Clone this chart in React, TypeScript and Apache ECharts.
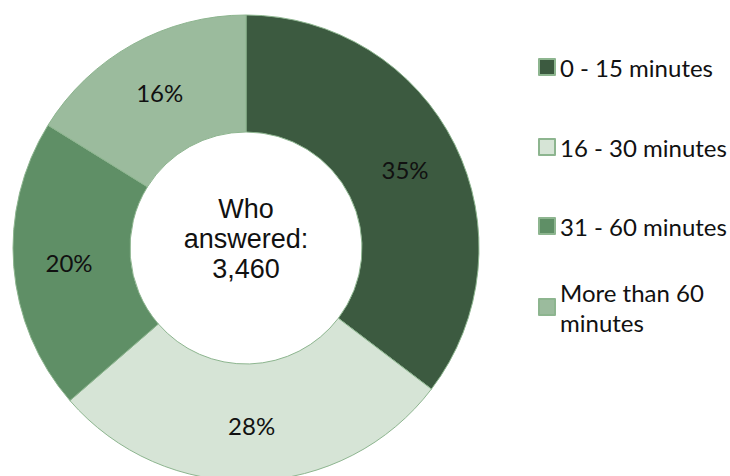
import React, { useEffect, useRef } from "react";
import * as echarts from "echarts";

const categories = ["0 - 15 minutes", "16 - 30 minutes", "31 - 60 minutes", "More than 60 minutes"];
const percentages = [35, 28, 20, 16];
const colors = ["#3c5a40", "#d6e4d6", "#5f8f66", "#9bbb9d"];
const legendLabels = ["0 - 15 minutes", "16 - 30 minutes", "31 - 60 minutes", "More than 60\nminutes"];
const centerLines = ["Who", "answered:", "3,460"];

export default function App() {
  const ref = useRef<HTMLDivElement>(null);
  useEffect(() => {
    if (!ref.current) return;
    const chart = echarts.init(ref.current, null, { renderer: "svg" });
    const legendCenters = [67, 147, 226, 307];
    const legends = categories.map((name, i) => {
      const multi = legendLabels[i].includes("\n");
      return {
        show: true,
        orient: "vertical",
        left: 538,
        top: multi ? legendCenters[i] - 45 : legendCenters[i] - 15,
        padding: 0,
        itemWidth: 16,
        itemHeight: 16,
        icon: "rect",
        selectedMode: false,
        data: [name],
        formatter: () => legendLabels[i],
        textStyle: {
          fontFamily: "Lato",
          fontSize: 24,
          lineHeight: 30,
          color: "#111111",
          padding: multi ? [30, 0, 0, 0] : 0,
        },
      };
    });
    chart.setOption({
      animation: false,
      backgroundColor: "#ffffff",
      legend: legends,
      graphic: [
        {
          type: "text",
          x: 246,
          y: 239,
          style: {
            text: centerLines.join("\n"),
            align: "center",
            verticalAlign: "middle",
            fontFamily: "Liberation Sans",
            fontSize: 27,
            lineHeight: 30,
            fill: "#111111",
          },
        },
      ],
      series: [
        {
          type: "pie",
          center: [246, 248],
          radius: [116, 233],
          startAngle: 90,
          clockwise: true,
          avoidLabelOverlap: false,
          emphasis: { disabled: true },
          itemStyle: { borderColor: "#8db58f", borderWidth: 1 },
          label: {
            show: true,
            position: "inside",
            formatter: "{c}%",
            fontFamily: "Lato",
            fontSize: 24,
            color: "#111111",
          },
          labelLine: { show: false },
          data: categories.map((name, i) => ({
            name,
            value: percentages[i],
            itemStyle: { color: colors[i] },
          })),
        },
      ],
    });
    return () => chart.dispose();
  }, []);
  return (
    <div
      ref={ref}
      style={{ position: "fixed", left: 0, top: 0, width: 730, height: 476 }}
    />
  );
}
